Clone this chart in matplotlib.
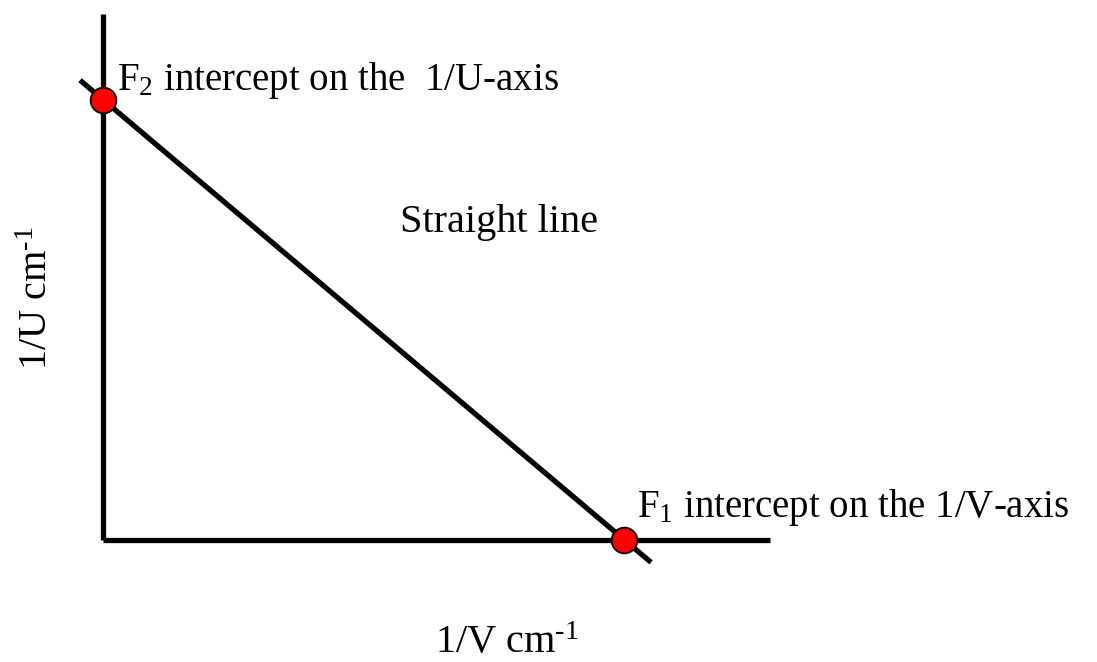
import matplotlib
matplotlib.use("Agg")
import matplotlib.pyplot as plt
import numpy as np

plt.rcParams['font.family'] = ['Liberation Serif', 'DejaVu Serif']
plt.rcParams['mathtext.fontset'] = 'custom'
plt.rcParams['mathtext.rm'] = 'Liberation Serif'
plt.rcParams['mathtext.it'] = 'Liberation Serif:italic'

# data (arbitrary units: intercepts 1/f1 on 1/V axis, 1/f2 on 1/U axis)
inv_f1 = 1.0              # F1 intercept on 1/V axis
inv_f2 = 1.0              # F2 intercept on 1/U axis
line_x = [-0.045, 1.052]  # extent of the drawn straight line
axis_x_max = 1.2805
axis_y_max = 1.1957

labels = {
    'f2': r'F$_2$ intercept on the  1/U-axis',
    'f1': r'F$_1$ intercept on the 1/V-axis',
    'mid': 'Straight line',
    'x': r'1/V cm$^{\text{-1}}$',
    'y': r'1/U cm$^{\text{-1}}$',
}

fig = plt.figure(figsize=(10.97, 6.62), dpi=100)
ax = fig.add_axes([0, 0, 1, 1])
ax.set_xlim(-0.1988, 1.9088)
ax.set_ylim(-0.2787, 1.2275)
ax.axis('off')

lw = 3.8
# axes lines
ax.plot([0, axis_x_max], [0, 0], color='black', lw=lw, solid_capstyle='butt')
ax.plot([0, 0], [0, axis_y_max], color='black', lw=lw, solid_capstyle='butt')

# straight line through intercepts
lx = np.array(line_x)
ly = inv_f2 * (1 - lx / inv_f1)
ax.plot(lx, ly, color='black', lw=lw, solid_capstyle='butt')

# intercept points
ax.plot([0, inv_f1], [inv_f2, 0], 'o', color='red', markersize=18.5,
        markeredgecolor='black', markeredgewidth=1.3, zorder=5)

fs = 29
ax.text(0.026, 1.0228, labels['f2'], fontsize=28, ha='left', va='baseline')
ax.text(1.025, 0.0512, labels['f1'], fontsize=28, ha='left', va='baseline')
ax.text(0.5696, 0.6997, labels['mid'], fontsize=fs, ha='left', va='baseline')
ax.text(0.6369, -0.2582, labels['x'], fontsize=fs, ha='left', va='baseline')
ax.text(-0.1085, 0.3857, labels['y'], fontsize=fs, ha='left', va='baseline',
        rotation=90, rotation_mode='anchor')

fig.savefig('out.png', dpi=100)
